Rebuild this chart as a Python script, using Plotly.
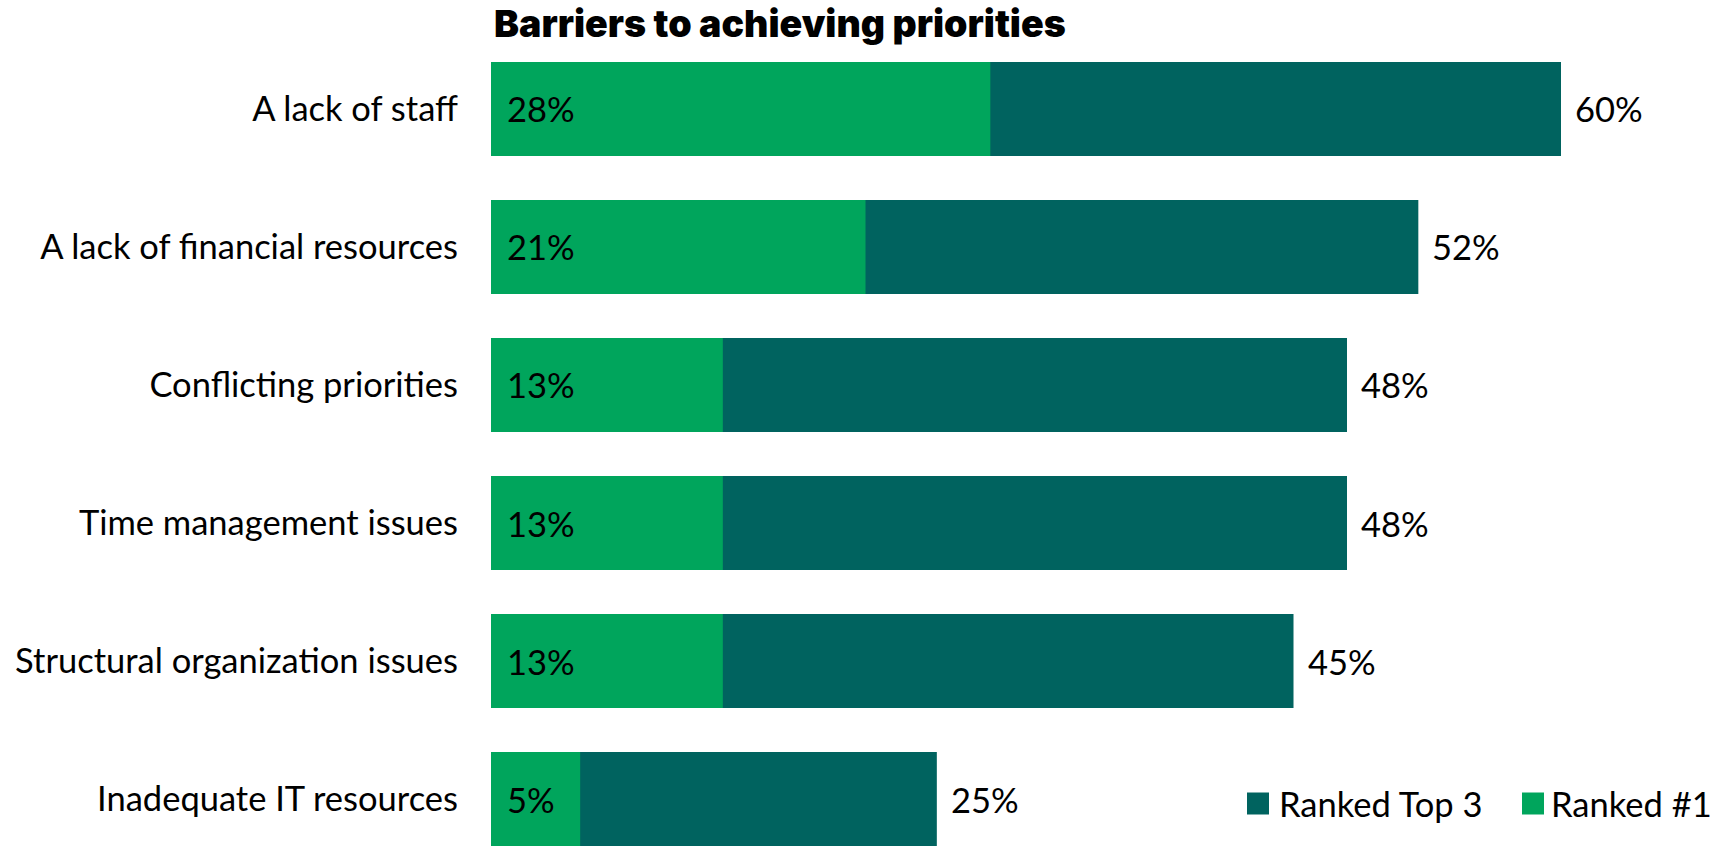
import plotly.graph_objects as go

# Survey results: barriers to achieving priorities
categories = [
    "A lack of staff",
    "A lack of financial resources",
    "Conflicting priorities",
    "Time management issues",
    "Structural organization issues",
    "Inadequate IT resources",
]
ranked_top3 = [60, 52, 48, 48, 45, 25]
ranked_first = [28, 21, 13, 13, 13, 5]
series_names = ["Ranked Top 3", "Ranked #1"]

DARK = "#00635F"
GREEN = "#00A55C"
LABEL_FONT = "Lato"
LABEL_SIZE = 34.5

W, H = 1711, 848
LEFT = 491
PX_PER_PCT = 1070 / 60  # horizontal scale of the bars
PLOT_W = W - LEFT


def px_x(px):
    """Pixel column -> paper x (plot area spans LEFT..W)."""
    return (px - LEFT) / PLOT_W


def px_y(py):
    """Pixel row from top -> paper y (plot area spans full height)."""
    return 1 - py / H


fig = go.Figure()

# Wider "Top 3" bar underneath, "#1" share drawn over it
fig.add_trace(go.Bar(
    y=categories, x=ranked_top3, orientation="h", width=0.68,
    name=series_names[0],
    marker=dict(color=DARK, line=dict(width=0)),
    showlegend=False, hoverinfo="skip",
))
fig.add_trace(go.Bar(
    y=categories, x=ranked_first, orientation="h", width=0.68,
    name=series_names[1],
    marker=dict(color=GREEN, line=dict(width=0)),
    showlegend=False, hoverinfo="skip",
))

label_font = dict(family=LABEL_FONT, size=LABEL_SIZE, color="#000000")

# Value labels: total at the end of each bar, #1 share inside at the start
for cat, v in zip(categories, ranked_top3):
    fig.add_annotation(x=v, y=cat, text=f"{v}%", showarrow=False,
                       xanchor="left", yanchor="middle", xshift=12,
                       font=label_font)
for cat, v in zip(categories, ranked_first):
    fig.add_annotation(x=0, y=cat, text=f"{v}%", showarrow=False,
                       xanchor="left", yanchor="middle", xshift=14,
                       font=label_font)

# Key in the lower right: square swatch followed by the series name
legend_y = 803.5
swatch = 22
for name, color, sx, tx in [(series_names[0], DARK, 1247, 1277),
                            (series_names[1], GREEN, 1522, 1549)]:
    fig.add_shape(type="rect", xref="paper", yref="paper",
                  x0=px_x(sx), x1=px_x(sx + swatch),
                  y0=px_y(legend_y - swatch / 2), y1=px_y(legend_y + swatch / 2),
                  fillcolor=color, line=dict(width=0))
    fig.add_annotation(xref="paper", yref="paper", x=px_x(tx), y=px_y(legend_y),
                       text=name, showarrow=False, xanchor="left",
                       yanchor="middle", font=label_font)

fig.update_layout(
    width=W, height=H,
    margin=dict(l=LEFT, r=0, t=0, b=0, autoexpand=False),
    barmode="overlay",
    showlegend=False,
    plot_bgcolor="white", paper_bgcolor="white",
    title=dict(
        text="Barriers to achieving priorities",
        font=dict(family="Inter", size=37.5, weight=900, color="#000000"),
        x=494 / W, xref="container", xanchor="left",
        y=1 - 23.5 / H, yref="container", yanchor="middle",
    ),
    xaxis=dict(range=[0, PLOT_W / PX_PER_PCT], showgrid=False,
               zeroline=False, showticklabels=False, ticks="",
               showline=False, fixedrange=True),
    yaxis=dict(categoryorder="array", categoryarray=categories,
               range=[5 + 49 / 138.04, -109 / 138.04],
               showgrid=False, zeroline=False, showline=False, ticks="",
               tickfont=label_font, ticklabelstandoff=32, fixedrange=True),
)

fig.write_html("out.html")
